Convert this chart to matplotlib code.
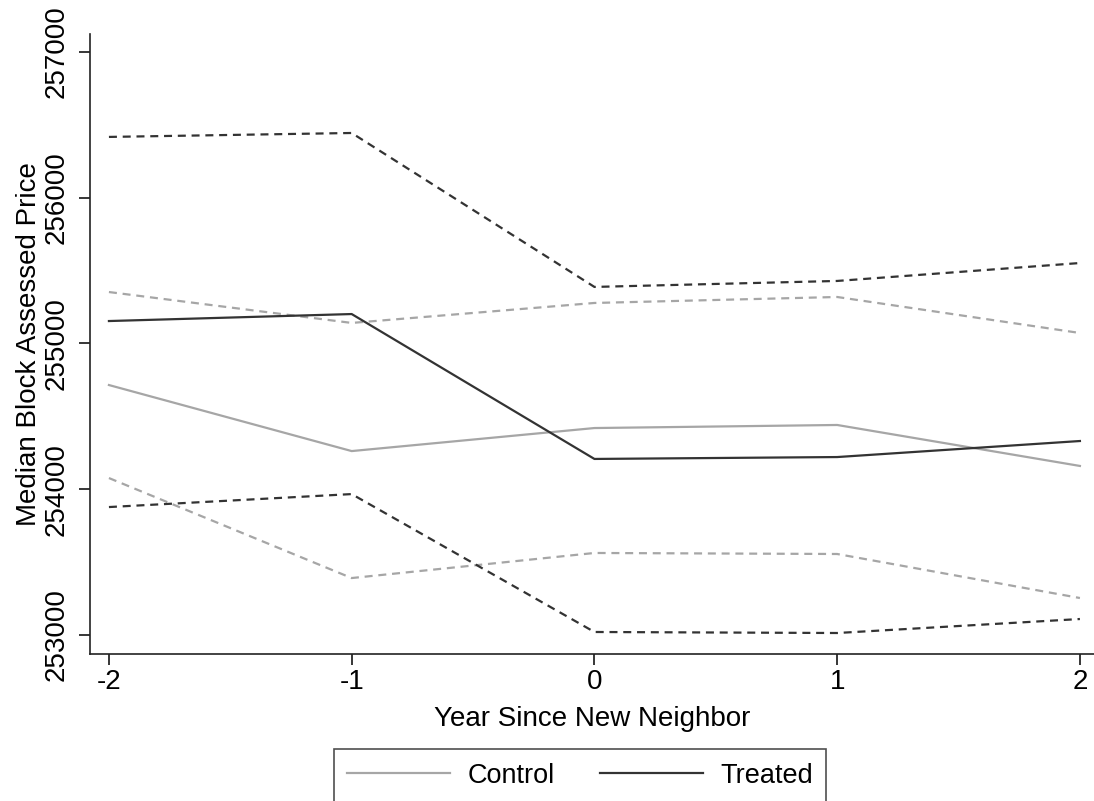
import matplotlib.pyplot as plt
from matplotlib.lines import Line2D

plt.rcParams['font.family'] = ['Liberation Sans', 'DejaVu Sans']

years = [-2, -1, 0, 1, 2]

treated = [255154, 255202, 254208, 254221, 254331]
treated_hi = [256417, 256444, 255388, 255429, 255552]
treated_lo = [253878, 253967, 253021, 253014, 253110]

control = [254715, 254262, 254420, 254441, 254160]
control_hi = [255353, 255141, 255278, 255319, 255072]
control_lo = [254077, 253391, 253563, 253556, 253254]

yticks = [253000, 254000, 255000, 256000, 257000]

dark = '#333333'
light = '#a6a6a6'
dash = (0, (3.6, 2.6))

fig = plt.figure(figsize=(10.94, 8.01), dpi=100)
ax = fig.add_axes([90/1094, 1 - 654/801, 1 - 90/1094, 620/801])

ax.plot(years, control_hi, color=light, lw=1.6, ls=dash)
ax.plot(years, control_lo, color=light, lw=1.6, ls=dash)
ax.plot(years, treated_hi, color=dark, lw=1.6, ls=dash)
ax.plot(years, treated_lo, color=dark, lw=1.6, ls=dash)
ax.plot(years, control, color=light, lw=1.6)
ax.plot(years, treated, color=dark, lw=1.6)

ax.set_xlim(-2.078, 2.058)
ax.set_ylim(252870, 257123)
ax.set_xticks(years)
ax.set_xticklabels([str(y) for y in years])
ax.set_yticks(yticks)
ax.set_yticklabels([str(v) for v in yticks], rotation=90, va='center')

for side in ['top', 'right']:
    ax.spines[side].set_visible(False)
for side in ['left', 'bottom']:
    ax.spines[side].set_linewidth(1.2)
    ax.spines[side].set_color('#222222')

ax.tick_params(axis='both', direction='out', length=8, width=1.1, labelsize=20, colors='black')
ax.tick_params(axis='y', pad=7)
ax.tick_params(axis='x', pad=3)

ax.set_xlabel('Year Since New Neighbor', fontsize=20, labelpad=8)
ax.set_ylabel('Median Block Assessed Price', fontsize=20, labelpad=1)

handles = [Line2D([], [], color=light, lw=1.6), Line2D([], [], color=dark, lw=1.6)]
leg = fig.legend(handles, ['Control', 'Treated'], loc='upper center',
                 bbox_to_anchor=(580/1094, 1 - 749/801), ncol=2, fontsize=19.5,
                 frameon=True, fancybox=False, handlelength=3.8, columnspacing=1.65,
                 handletextpad=0.65, borderpad=0.5, borderaxespad=0,
                 edgecolor='#222222')
leg.get_frame().set_linewidth(1.2)

fig.savefig('out.png', dpi=100)
